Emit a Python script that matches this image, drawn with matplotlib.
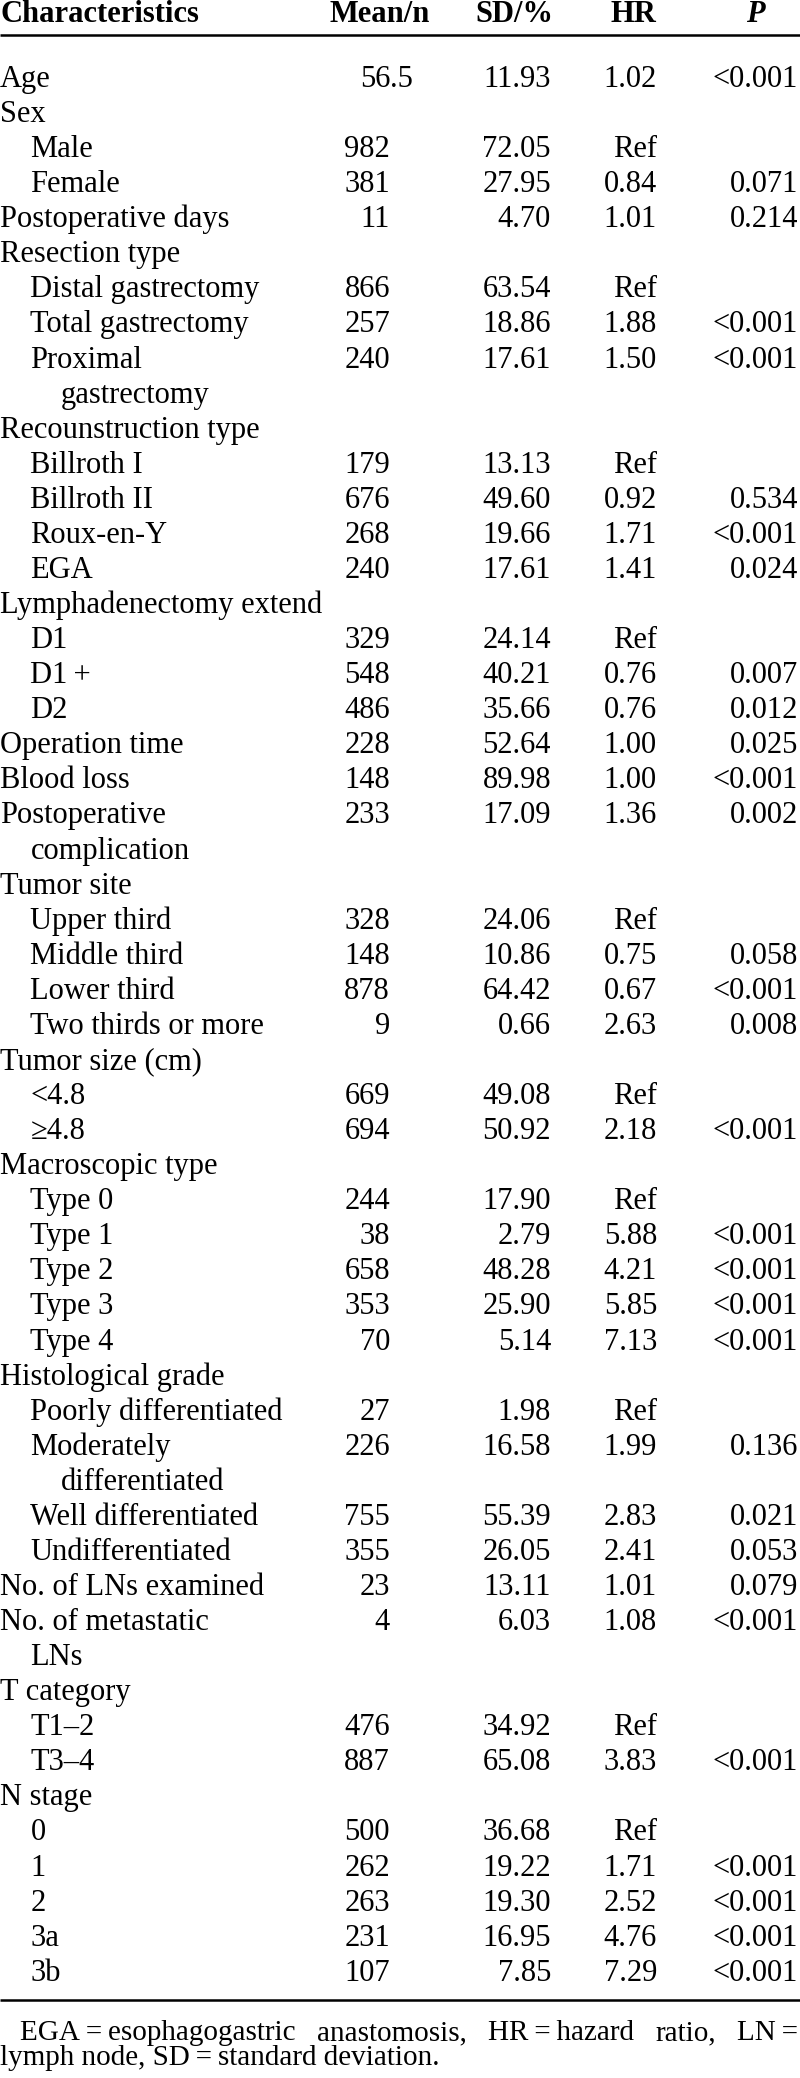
import matplotlib
matplotlib.use("Agg")
import matplotlib.pyplot as plt

plt.rcParams['font.family'] = ['Liberation Serif', 'DejaVu Serif']

headers = ["Characteristics", "Mean/n", "SD/%", "HR", "P"]

labels = [
    "Age", "Sex", "Male", "Female", "Postoperative days", "Resection type",
    "Distal gastrectomy", "Total gastrectomy", "Proximal\ngastrectomy",
    "Recounstruction type", "Billroth I", "Billroth II", "Roux-en-Y", "EGA",
    "Lymphadenectomy extend", "D1", "D1\u2009+", "D2", "Operation time", "Blood loss",
    "Postoperative\ncomplication", "Tumor site", "Upper third", "Middle third",
    "Lower third", "Two thirds or more", "Tumor size (cm)", "<4.8", "\u22654.8",
    "Macroscopic type", "Type 0", "Type 1", "Type 2", "Type 3", "Type 4",
    "Histological grade", "Poorly differentiated", "Moderately\ndifferentiated",
    "Well differentiated", "Undifferentiated", "No. of LNs examined",
    "No. of metastatic\nLNs", "T category", "T1\u20132", "T3\u20134", "N stage",
    "0", "1", "2", "3a", "3b",
]
levels = [
    0, 0, 1, 1, 0, 0,
    1, 1, 1,
    0, 1, 1, 1, 1,
    0, 1, 1, 1, 0, 0,
    0, 0, 1, 1,
    1, 1, 0, 1, 1,
    0, 1, 1, 1, 1, 1,
    0, 1, 1,
    1, 1, 0,
    0, 0, 1, 1, 0,
    1, 1, 1, 1, 1,
]
mean_n = [
    "56.5", "", "982", "381", "11", "",
    "866", "257", "240",
    "", "179", "676", "268", "240",
    "", "329", "548", "486", "228", "148",
    "233", "", "328", "148",
    "878", "9", "", "669", "694",
    "", "244", "38", "658", "353", "70",
    "", "27", "226",
    "755", "355", "23",
    "4", "", "476", "887", "",
    "500", "262", "263", "231", "107",
]
sd_pct = [
    "11.93", "", "72.05", "27.95", "4.70", "",
    "63.54", "18.86", "17.61",
    "", "13.13", "49.60", "19.66", "17.61",
    "", "24.14", "40.21", "35.66", "52.64", "89.98",
    "17.09", "", "24.06", "10.86",
    "64.42", "0.66", "", "49.08", "50.92",
    "", "17.90", "2.79", "48.28", "25.90", "5.14",
    "", "1.98", "16.58",
    "55.39", "26.05", "13.11",
    "6.03", "", "34.92", "65.08", "",
    "36.68", "19.22", "19.30", "16.95", "7.85",
]
hr = [
    "1.02", "", "Ref", "0.84", "1.01", "",
    "Ref", "1.88", "1.50",
    "", "Ref", "0.92", "1.71", "1.41",
    "", "Ref", "0.76", "0.76", "1.00", "1.00",
    "1.36", "", "Ref", "0.75",
    "0.67", "2.63", "", "Ref", "2.18",
    "", "Ref", "5.88", "4.21", "5.85", "7.13",
    "", "Ref", "1.99",
    "2.83", "2.41", "1.01",
    "1.08", "", "Ref", "3.83", "",
    "Ref", "1.71", "2.52", "4.76", "7.29",
]
p_val = [
    "<0.001", "", "", "0.071", "0.214", "",
    "", "<0.001", "<0.001",
    "", "", "0.534", "<0.001", "0.024",
    "", "", "0.007", "0.012", "0.025", "<0.001",
    "0.002", "", "", "0.058",
    "<0.001", "0.008", "", "", "<0.001",
    "", "", "<0.001", "<0.001", "<0.001", "<0.001",
    "", "", "0.136",
    "0.021", "0.053", "0.079",
    "<0.001", "", "", "<0.001", "",
    "", "<0.001", "<0.001", "<0.001", "<0.001",
]

note_line1 = ["EGA\u2009=\u2009esophagogastric", "anastomosis,", "HR\u2009=\u2009hazard", "ratio,", "LN\u2009="]
note_line2 = "lymph node, SD\u2009=\u2009standard deviation."

W, H = 800, 2078
fig = plt.figure(figsize=(W / 100, H / 100), dpi=100)
ax = fig.add_axes([0, 0, 1, 1])
ax.set_xlim(0, W)
ax.set_ylim(H, 0)
ax.axis('off')

fs = 22
x_mean, x_sd, x_hr, x_p = 390, 551, 657, 798
indent = 30.5

# header row
ax.text(0, 22, headers[0], fontsize=fs, fontweight='bold', va='baseline', ha='left')
ax.text(380, 22, headers[1], fontsize=fs, fontweight='bold', va='baseline', ha='center')
ax.text(553, 22, headers[2], fontsize=fs, fontweight='bold', va='baseline', ha='right')
ax.text(656, 22, headers[3], fontsize=fs, fontweight='bold', va='baseline', ha='right')
ax.text(755, 22, headers[4], fontsize=fs, fontweight='bold', style='italic', va='baseline', ha='center')
ax.plot([0, W], [35, 35], color='black', lw=1.8, solid_capstyle='butt')

y0, dy = 87, 35.07
k = 0
for lab, lev, m, s, h, p in zip(labels, levels, mean_n, sd_pct, hr, p_val):
    y = y0 + dy * k
    parts = lab.split("\n")
    for j, part in enumerate(parts):
        ax.text(lev * indent + (indent if j > 0 else 0), y + dy * j, part,
                fontsize=fs, va='baseline', ha='left')
    if m:
        # mean column is aligned on the decimal point
        if "." in m:
            ip, fp = m.split(".")
            ax.text(x_mean, y, ip, fontsize=fs, va='baseline', ha='right')
            ax.text(x_mean, y, "." + fp, fontsize=fs, va='baseline', ha='left')
        else:
            ax.text(x_mean, y, m, fontsize=fs, va='baseline', ha='right')
    ax.text(x_sd, y, s, fontsize=fs, va='baseline', ha='right')
    ax.text(x_hr, y, h, fontsize=fs, va='baseline', ha='right')
    ax.text(x_p, y, p, fontsize=fs, va='baseline', ha='right')
    k += len(parts)

ax.plot([0, W], [2000, 2000], color='black', lw=1.8, solid_capstyle='butt')

# footnote, first line justified between the margins
renderer = fig.canvas.get_renderer()
fn_fs = 21
left, right = 20, 798
chunks = [ax.text(0, 2040, c, fontsize=fn_fs, va='baseline', ha='left') for c in note_line1]
widths = [t.get_window_extent(renderer).width for t in chunks]
gap = (right - left - sum(widths)) / (len(chunks) - 1)
x = left
for t, w in zip(chunks, widths):
    t.set_x(x)
    x += w + gap
ax.text(0, 2065, note_line2, fontsize=fn_fs, va='baseline', ha='left')

fig.savefig("out.png", dpi=100)
